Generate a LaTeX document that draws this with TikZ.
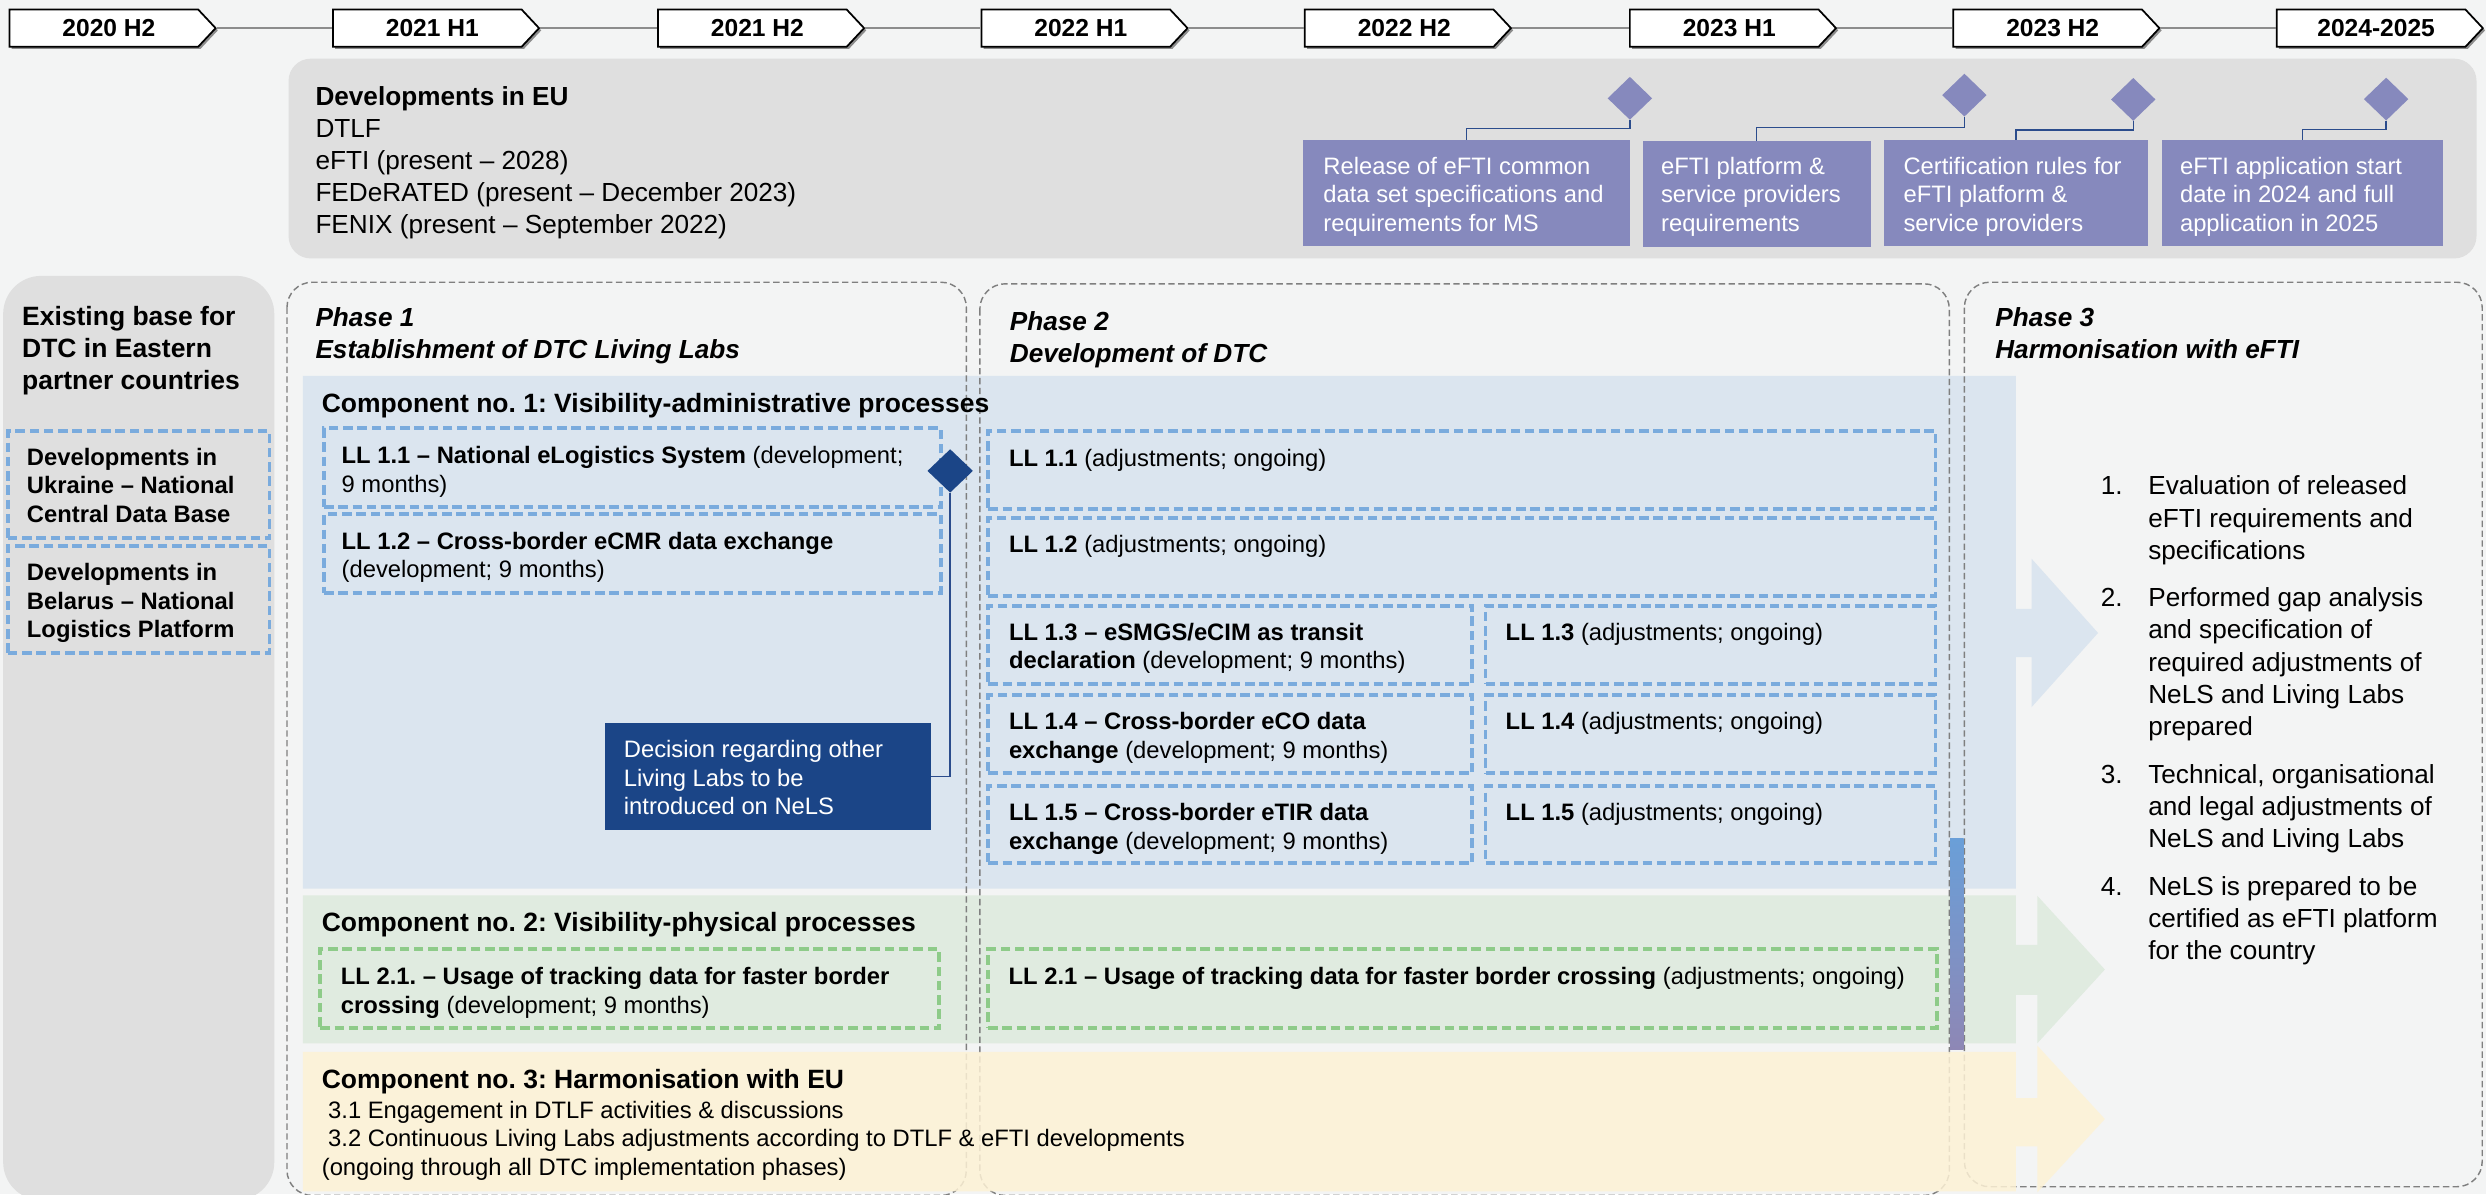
\documentclass[tikz,border=0pt]{standalone}
\usepackage{fontspec}
\setmainfont{Liberation Sans}
\usetikzlibrary{shapes.geometric}
\frenchspacing
\definecolor{bgc}{HTML}{F3F4F4}
\definecolor{greybox}{HTML}{DFDFDF}
\definecolor{purp}{HTML}{8689BD}
\definecolor{navy}{HTML}{1B4587}
\definecolor{connc}{HTML}{2B4C8C}
\definecolor{bandblue}{HTML}{DBE5EF}
\definecolor{bandgreen}{HTML}{E0EBE0}
\definecolor{bandyellow}{HTML}{FDF2D5}
\definecolor{dashblue}{HTML}{7AABDD}
\definecolor{dashgreen}{HTML}{8ECB89}
\definecolor{phasegrey}{HTML}{7F7F7F}
\definecolor{tlgrey}{HTML}{8C8C8C}
\definecolor{stripA}{HTML}{6A9FD8}
\definecolor{stripB}{HTML}{7FB0D0}
\definecolor{stripC}{HTML}{8E87B5}
\newcommand{\fsz}[2]{\fontsize{#1pt}{#2pt}\selectfont}
\tikzset{
  tlbox/.style={draw=black, fill=white, line width=1.1pt, line join=miter},
  tlshadow/.style={fill=black!45},
  tllabel/.style={font=\fsz{15.5}{18}\bfseries, anchor=center},
  tlline/.style={draw=tlgrey, line width=1.6pt},
  purpbox/.style={fill=purp, anchor=north west},
  purptext/.style={anchor=base west, align=left, text=white, font=\fsz{15}{18}},
  purpdiam/.style={diamond, fill=purp, minimum width=28pt, minimum height=27pt},
  euconn/.style={draw=connc, line width=0.9pt},
  lldash/.style={draw=dashblue, line width=2.4pt, dash pattern=on 6pt off 3pt, anchor=north west},
  lldashg/.style={draw=dashgreen, line width=2.4pt, dash pattern=on 6pt off 3pt, anchor=north west},
  phasebox/.style={draw=phasegrey, line width=0.9pt, dash pattern=on 4pt off 2.2pt, rounded corners=16pt},
  bodytext/.style={anchor=base west, align=left, font=\fsz{15}{18}},
  boldsmall/.style={anchor=base west, align=left, font=\fsz{15}{18}\bfseries},
  headtext/.style={anchor=base west, align=left, font=\fsz{16.7}{20}\bfseries},
  phasetitle/.style={anchor=base west, align=left, font=\fsz{16.5}{20}\bfseries\itshape},
  eutext/.style={anchor=base west, align=left, font=\fsz{16.5}{20.2}},
  listtext/.style={anchor=base west, align=left, font=\fsz{16.5}{20.4}},
}
\begin{document}
\begin{tikzpicture}[x=1pt,y=-1pt, every node/.style={inner sep=0pt, outer sep=0pt}]
\useasboundingbox (0,0) rectangle (1568,753.1);
\fill[bgc] (0,0) rectangle (1568,753.1);

% ---------- timeline ----------
\foreach \lx/\lab [count=\i] in {6/2020 H2, 210/2021 H1, 415/2021 H2, 619/2022 H1, 823/2022 H2, 1028/2023 H1, 1232/2023 H2, 1436/2024-2025}{
  \fill[tlshadow] ({\lx+1.4},7.4) -- ({\lx+120.4},7.4) -- ({\lx+131.4},19.15) -- ({\lx+120.4},30.9) -- ({\lx+1.4},30.9) -- cycle;
  \draw[tlbox] (\lx,6) -- ({\lx+119},6) -- ({\lx+130},17.75) -- ({\lx+119},29.5) -- (\lx,29.5) -- cycle;
  \node[tllabel] (tl\i) at ({\lx+62.7},17.75) {\lab};
  \coordinate (tle\i) at ({\lx+130.6},17.75);
  \coordinate (tlw\i) at ({\lx-0.6},17.75);
}
\foreach \i in {1,...,7}{
  \pgfmathtruncatemacro\j{\i+1}
  \draw[tlline] (tle\i) -- (tlw\j);
}

% ---------- EU developments ----------
\fill[greybox, rounded corners=14pt] (182,37) rectangle (1562,163);
\node[eutext] (eut) at (199,147.3) {\textbf{Developments in EU}\\DTLF\\eFTI (present – 2028)\\FEDeRATED (present – December 2023)\\FENIX (present – September 2022)};

\node[purpbox, minimum width=206pt, minimum height=67pt] (p1) at (822,88) {};
\node[purpbox, minimum width=144pt, minimum height=67pt] (p2) at (1036,89) {};
\node[purpbox, minimum width=167pt, minimum height=67pt] (p3) at (1188,88.3) {};
\node[purpbox, minimum width=177.5pt, minimum height=67pt] (p4) at (1363.5,88) {};
\node[purptext] (p1t) at (834.7,146) {Release of eFTI common\\data set specifications and\\requirements for MS};
\node[purptext] (p2t) at (1047.7,146) {eFTI platform \&\\service providers\\requirements};
\node[purptext] (p3t) at (1200.6,146) {Certification rules for\\eFTI platform \&\\service providers};
\node[purptext] (p4t) at (1375,146) {eFTI application start\\date in 2024 and full\\application in 2025};

\node[purpdiam] (d1) at (1028,62) {};
\node[purpdiam] (d2) at (1239,60) {};
\node[purpdiam] (d3) at (1345.5,62.7) {};
\node[purpdiam] (d4) at (1505,62.5) {};
\draw[euconn] (d1.south) -- ++(0,5.7) -| (p1.north);
\draw[euconn] (d2.south) -- ++(0,7) -| (p2.north);
\draw[euconn] (d3.south) -- ++(0,5.8) -| (p3.north);
\draw[euconn] (d4.south) -- ++(0,5.6) -| (p4.north);

% ---------- existing base ----------
\fill[greybox, rounded corners=24pt] (2,174) rectangle (173,757);
\node[headtext] (exb) at (14,245.6) {Existing base for\\DTC in Eastern\\partner countries};
\node[lldash, minimum width=165pt, minimum height=67.7pt] (ua) at (5,271.8) {};
\node[lldash, minimum width=165pt, minimum height=67.6pt] (by) at (5,344.4) {};
\node[boldsmall] (uat) at (17,329.4) {Developments in\\Ukraine – National\\Central Data Base};
\node[boldsmall] (byt) at (17,402.2) {Developments in\\Belarus – National\\Logistics Platform};

% ---------- bands ----------
\fill[bandblue] (191,237) -- (1271.5,237) -- (1271.5,384) -- (1281.4,384) -- (1281.4,352.4) -- (1323.3,399.2) -- (1281.4,446) -- (1281.4,414.5) -- (1271.5,414.5) -- (1271.5,560.5) -- (191,560.5) -- cycle;
\fill[bandgreen] (191,564.7) -- (1271.5,564.7) -- (1271.5,596) -- (1285,596) -- (1285,565) -- (1327.6,611.5) -- (1285,658) -- (1285,627.5) -- (1271.5,627.5) -- (1271.5,658) -- (191,658) -- cycle;

% ---------- phase boxes ----------
\draw[phasebox] (181,178) rectangle (609.5,754);
\draw[phasebox] (618,179) rectangle (1229.5,754);
\draw[phasebox] (1239,178) rectangle (1565.6,748.5);

% yellow band (over the phase frames)
\fill[bandyellow, opacity=0.85] (191,663.5) -- (1271.5,663.5) -- (1271.5,692.6) -- (1285,692.6) -- (1285,659.5) -- (1327.6,705.8) -- (1285,752) -- (1285,723) -- (1271.5,723) -- (1271.5,751.5) -- (191,751.5) -- cycle;

% strip between phase 2 and 3
\shade[top color=stripA, middle color=stripB, bottom color=stripC] (1230,529) rectangle (1238.5,662);

% ---------- titles ----------
\node[phasetitle] (ph1) at (199,226) {Phase 1\\Establishment of DTC Living Labs};
\node[phasetitle] (ph2) at (637,228.5) {Phase 2\\Development of DTC};
\node[phasetitle] (ph3) at (1258.5,226) {Phase 3\\Harmonisation with eFTI};

\node[headtext] (c1) at (203,260.3) {Component no. 1: Visibility-administrative processes};
\node[headtext] (c2) at (203,587.7) {Component no. 2: Visibility-physical processes};
\node[headtext] (c3) at (203,686.6) {Component no. 3: Harmonisation with EU};
\node[bodytext] (c3t) at (203,741.4) {\hspace*{4pt}3.1 Engagement in DTLF activities \& discussions\\\hspace*{4pt}3.2 Continuous Living Labs adjustments according to DTLF \& eFTI developments\\(ongoing through all DTC implementation phases)};

% ---------- phase 1 LL boxes ----------
\node[lldash, minimum width=389pt, minimum height=50pt] (a11) at (204.4,270) {};
\node[lldash, minimum width=389pt, minimum height=49.4pt] (a12) at (204.4,324.4) {};
\node[bodytext] (a11t) at (215.5,310.6) {\textbf{LL 1.1 – National eLogistics System} (development;\\9 months)};
\node[bodytext] (a12t) at (215.5,364.4) {\textbf{LL 1.2 – Cross-border eCMR data exchange}\\(development; 9 months)};

\node[lldashg, minimum width=390pt, minimum height=50pt] (a21) at (202,598.6) {};
\node[bodytext] (a21t) at (215,639) {\textbf{LL 2.1. – Usage of tracking data for faster border}\\\textbf{crossing} (development; 9 months)};

% decision
\node[fill=navy, minimum width=205.6pt, minimum height=67.4pt, anchor=north west] (dec) at (381.8,456) {};
\node[bodytext, text=white] (dect) at (393.5,513.8) {Decision regarding other\\Living Labs to be\\introduced on NeLS};
\node[diamond, fill=navy, minimum width=28.6pt, minimum height=27.3pt] (dd) at (599.3,297) {};
\draw[euconn] (dd.south) |- (dec.east);

% ---------- phase 2 LL boxes ----------
\node[lldash, minimum width=597.5pt, minimum height=49.5pt] (b11) at (623.3,271.7) {};
\node[lldash, minimum width=597.5pt, minimum height=49.5pt] (b12) at (623.3,326.5) {};
\node[lldash, minimum width=305.3pt, minimum height=49.5pt] (b13) at (623.3,382) {};
\node[lldash, minimum width=283.8pt, minimum height=49.5pt] (c13) at (937,382) {};
\node[lldash, minimum width=305.3pt, minimum height=49.4pt] (b14) at (623.3,438.3) {};
\node[lldash, minimum width=283.8pt, minimum height=49.4pt] (c14) at (937,438.3) {};
\node[lldash, minimum width=305.3pt, minimum height=49pt] (b15) at (623.3,495.5) {};
\node[lldash, minimum width=283.8pt, minimum height=49pt] (c15) at (937,495.5) {};
\node[lldashg, minimum width=598.6pt, minimum height=49.7pt] (b21) at (623.2,598.5) {};

\node[bodytext] (b11t) at (636.4,294) {\textbf{LL 1.1} (adjustments; ongoing)};
\node[bodytext] (b12t) at (636.4,348.3) {\textbf{LL 1.2} (adjustments; ongoing)};
\node[bodytext] (b13t) at (636.4,421.8) {\textbf{LL 1.3 – eSMGS/eCIM as transit}\\\textbf{declaration} (development; 9 months)};
\node[bodytext] (c13t) at (949.7,403.8) {\textbf{LL 1.3} (adjustments; ongoing)};
\node[bodytext] (b14t) at (636.4,478.1) {\textbf{LL 1.4 – Cross-border eCO data}\\\textbf{exchange} (development; 9 months)};
\node[bodytext] (c14t) at (949.7,460.1) {\textbf{LL 1.4} (adjustments; ongoing)};
\node[bodytext] (b15t) at (636.4,535.6) {\textbf{LL 1.5 – Cross-border eTIR data}\\\textbf{exchange} (development; 9 months)};
\node[bodytext] (c15t) at (949.7,517.4) {\textbf{LL 1.5} (adjustments; ongoing)};
\node[bodytext] (b21t) at (636.2,621) {\textbf{LL 2.1 – Usage of tracking data for faster border crossing} (adjustments; ongoing)};

% ---------- phase 3 list ----------
\node[listtext] (n1) at (1325,312) {1.};
\node[listtext] (l1) at (1355,352.8) {Evaluation of released\\eFTI requirements and\\specifications};
\node[listtext] (n2) at (1325,382.5) {2.};
\node[listtext] (l2) at (1355,464.1) {Performed gap analysis\\and specification of\\required adjustments of\\NeLS and Living Labs\\prepared};
\node[listtext] (n3) at (1325,494) {3.};
\node[listtext] (l3) at (1355,534.8) {Technical, organisational\\and legal adjustments of\\NeLS and Living Labs};
\node[listtext] (n4) at (1325,564.6) {4.};
\node[listtext] (l4) at (1355,605.4) {NeLS is prepared to be\\certified as eFTI platform\\for the country};
\end{tikzpicture}
\end{document}
